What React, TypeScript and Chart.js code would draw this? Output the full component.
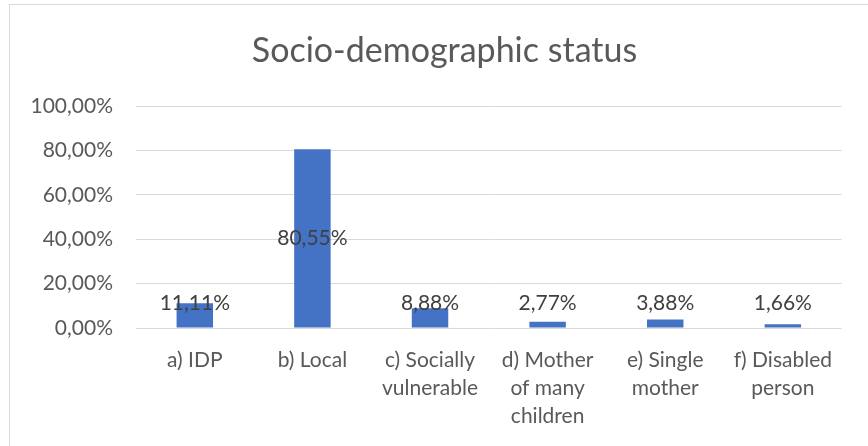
import React, { useEffect, useRef } from "react";
import { Chart, registerables } from "chart.js";

Chart.register(...registerables);

const categories: string[][] = [
  ["a) IDP"],
  ["b) Local"],
  ["c) Socially", "vulnerable"],
  ["d) Mother", "of many", "children"],
  ["e) Single", "mother"],
  ["f) Disabled", "person"],
];
const values: number[] = [11.11, 80.55, 8.88, 2.77, 3.88, 1.66];
const yTicks: number[] = [0, 20, 40, 60, 80, 100];
const title = "Socio-demographic status";

const fmt = (v: number) => v.toFixed(2).replace(".", ",") + "%";
const FONT = "Lato";

const labelPlugin = {
  id: "barLabels",
  afterDatasetsDraw(chart: any) {
    const ctx = chart.ctx;
    const meta = chart.getDatasetMeta(0);
    ctx.save();
    ctx.font = `21px ${FONT}`;
    ctx.fillStyle = "#404040";
    ctx.textAlign = "center";
    ctx.textBaseline = "middle";
    meta.data.forEach((bar: any, i: number) => {
      const mid = (bar.y + bar.base) / 2;
      const y = Math.min(mid, bar.base - 24);
      ctx.fillText(fmt(values[i]), bar.x, y);
    });
    ctx.restore();
  },
};

const titlePlugin = {
  id: "customTitle",
  afterDraw(chart: any) {
    const ctx = chart.ctx;
    ctx.save();
    ctx.font = `34px ${FONT}`;
    ctx.fillStyle = "#595959";
    ctx.textAlign = "center";
    ctx.textBaseline = "alphabetic";
    ctx.fillText(title, 444.5, 61.5);
    ctx.restore();
  },
};

export default function App() {
  const ref = useRef<HTMLCanvasElement>(null);
  useEffect(() => {
    if (!ref.current) return;
    const chart = new Chart(ref.current, {
      type: "bar",
      data: {
        labels: categories,
        datasets: [
          {
            data: values,
            backgroundColor: "#4472C4",
            barPercentage: 0.31,
            categoryPercentage: 1,
          },
        ],
      },
      options: {
        animation: false,
        responsive: false,
        maintainAspectRatio: false,
        layout: { padding: { left: 0, right: 0, top: 106, bottom: 0 } },
        plugins: {
          legend: { display: false },
          tooltip: { enabled: false },
          title: { display: false },
        },
        scales: {
          x: {
            grid: { display: false, drawTicks: false },
            border: { display: false },
            ticks: {
              color: "#595959",
              font: { family: FONT, size: 21, lineHeight: 1.34 },
              padding: 18,
              maxRotation: 0,
              autoSkip: false,
            },
            afterFit: (scale: any) => {
              scale.height = 118;
            },
          },
          y: {
            min: 0,
            max: 100,
            afterBuildTicks: (scale: any) => {
              scale.ticks = yTicks.map((v) => ({ value: v }));
            },
            grid: { color: "#d9d9d9", lineWidth: 1, drawTicks: false },
            border: { display: false },
            ticks: {
              color: "#595959",
              font: { family: FONT, size: 21 },
              padding: 23,
              callback: (v: any) => fmt(Number(v)),
            },
            afterFit: (scale: any) => {
              scale.width = 136;
            },
          },
        },
      },
      plugins: [labelPlugin, titlePlugin],
    });
    return () => chart.destroy();
  }, []);

  return (
    <div
      style={{
        position: "fixed",
        left: 0,
        top: 0,
        width: 868,
        height: 446,
        overflow: "hidden",
        background: "#fff",
      }}
    >
      <div
        style={{
          position: "absolute",
          left: 9,
          top: 4,
          width: 1000,
          height: 1000,
          border: "1px solid #d9d9d9",
        }}
      />
      <canvas
        ref={ref}
        width={850}
        height={446}
        style={{ position: "absolute", left: 0, top: 0, width: 850, height: 446 }}
      />
    </div>
  );
}
